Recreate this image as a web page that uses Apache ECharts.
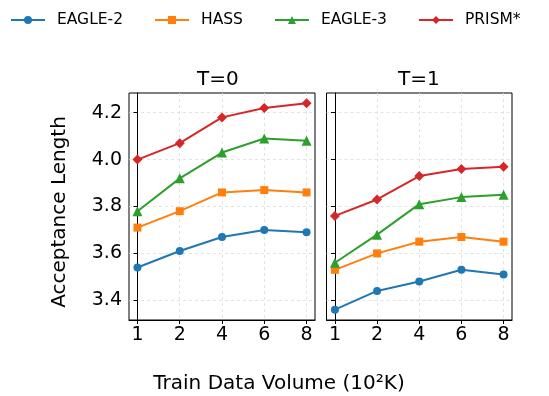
<!DOCTYPE html>
<html><head><meta charset="utf-8">
<script src="https://cdn.jsdelivr.net/npm/echarts@6/dist/echarts.min.js"></script>
<style>html,body{margin:0;padding:0;background:#fff}#c{width:549px;height:396px}</style>
</head><body><div id="c"></div>
<script>
const xCategories = ['1', '2', '4', '6', '8'];
const yTicks = [3.4, 3.6, 3.8, 4.0, 4.2];
const seriesNames = ['EAGLE-2', 'HASS', 'EAGLE-3', 'PRISM*'];
const panelTitles = ['T=0', 'T=1'];
// T=0
const t0Eagle2 = [3.54, 3.61, 3.67, 3.70, 3.69];
const t0Hass   = [3.71, 3.78, 3.86, 3.87, 3.86];
const t0Eagle3 = [3.78, 3.92, 4.03, 4.09, 4.08];
const t0Prism  = [4.00, 4.07, 4.18, 4.22, 4.24];
// T=1
const t1Eagle2 = [3.36, 3.44, 3.48, 3.53, 3.51];
const t1Hass   = [3.53, 3.60, 3.65, 3.67, 3.65];
const t1Eagle3 = [3.56, 3.68, 3.81, 3.84, 3.85];
const t1Prism  = [3.76, 3.83, 3.93, 3.96, 3.97];

const colors = ['#1f77b4', '#ff7f0e', '#2ca02c', '#d62728'];
const symbols = ['circle', 'rect', 'triangle', 'diamond'];
const symbolSizes = [8, 8, 10, 10];
const FONT = 'DejaVu Sans';
const panels = [[t0Eagle2, t0Hass, t0Eagle3, t0Prism], [t1Eagle2, t1Hass, t1Eagle3, t1Prism]];

const grids = [
  {left: 129, top: 93, width: 186, height: 227},
  {left: 326.5, top: 93, width: 185.5, height: 227}
];
const xIdx = xCategories.map((_, i) => i);

const xAxes = grids.map((g, k) => ({
  type: 'value', gridIndex: k, min: -0.2, max: 4.2,
  axisLine: {show: true, lineStyle: {color: '#000', width: 1}},
  axisTick: {show: true, length: 4, inside: false, customValues: xIdx, lineStyle: {color: '#000'}},
  axisLabel: {show: true, customValues: xIdx, margin: 6, fontSize: 19, fontFamily: FONT, color: '#000',
    formatter: v => xCategories[Math.round(v)]},
  splitLine: {show: true, lineStyle: {color: '#dcdcdc', type: [3, 3], width: 0.8}}
}));
const yAxes = grids.map((g, k) => ({
  type: 'value', gridIndex: k, min: 3.316, max: 4.284,
  axisLine: {show: true, lineStyle: {color: '#000', width: 1}},
  axisTick: {show: true, length: 4, inside: false, customValues: yTicks, lineStyle: {color: '#000'}},
  axisLabel: {show: k === 0, customValues: yTicks, margin: 7, fontSize: 19, fontFamily: FONT, color: '#000',
    formatter: v => v.toFixed(1)},
  splitLine: {show: true, lineStyle: {color: '#dcdcdc', type: [3, 3], width: 0.8}}
}));

const series = [];
panels.forEach((p, k) => {
  p.forEach((vals, s) => {
    series.push({
      name: seriesNames[s], type: 'line', xAxisIndex: k, yAxisIndex: k,
      data: vals.map((v, i) => [xIdx[i], v]),
      symbol: symbols[s], symbolSize: symbolSizes[s], showAllSymbol: true,
      lineStyle: {color: colors[s], width: 2},
      itemStyle: {color: colors[s]},
      emphasis: {disabled: true}, animation: false, z: 3 + s
    });
  });
});

const chart = echarts.init(document.getElementById('c'), null, {renderer: 'canvas'});
chart.setOption({
  animation: false,
  backgroundColor: '#fff',
  grid: grids.map(g => Object.assign({show: true, borderColor: '#000', borderWidth: 1, backgroundColor: 'transparent'}, g)),
  xAxis: xAxes,
  yAxis: yAxes,
  legend: {
    data: seriesNames, top: 7, left: 5, itemWidth: 34, itemHeight: 10, itemGap: 31,
    textStyle: {fontSize: 15.5, fontFamily: FONT, color: '#000', padding: [0, 0, 0, 7]}
  },
  graphic: [
    {type: 'text', left: 222 - 25, top: 70, style: {text: panelTitles[0], font: '20px "DejaVu Sans"', fill: '#000'}},
    {type: 'text', left: 419 - 21, top: 70, style: {text: panelTitles[1], font: '20px "DejaVu Sans"', fill: '#000'}},
    {type: 'text', x: 60, y: 212, rotation: Math.PI / 2,
      style: {text: 'Acceptance Length', font: '20px "DejaVu Sans"', fill: '#000', align: 'center', verticalAlign: 'middle'}},
    {type: 'text', x: 279, y: 384,
      style: {text: 'Train Data Volume (10²K)', font: '20px "DejaVu Sans"', fill: '#000', align: 'center', verticalAlign: 'middle'}}
  ],
  series: series
});
</script></body></html>
